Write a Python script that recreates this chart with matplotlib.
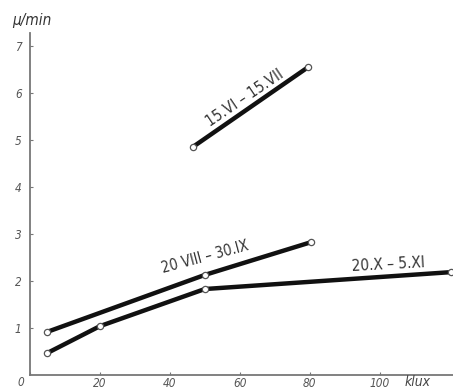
import matplotlib
matplotlib.use("Agg")
import matplotlib.pyplot as plt

# Rate vs. illuminance for three seasonal periods
x_summer = [46.5, 79.5]
y_summer = [4.85, 6.55]

x_autumn1 = [5, 50, 80.5]
y_autumn1 = [0.92, 2.13, 2.83]

x_autumn2 = [5, 20, 50, 120.5]
y_autumn2 = [0.47, 1.04, 1.83, 2.19]

x_ticks = [0, 20, 40, 60, 80, 100]
y_ticks = [1, 2, 3, 4, 5, 6, 7]
x_ticklabels = ["0", "20", "40", "60", "80", "100"]
y_ticklabels = ["1", "2", "3", "4", "5", "6", "7"]

plt.rcParams["font.family"] = ["DejaVu Sans"]
plt.rcParams["font.stretch"] = "condensed"

fig = plt.figure(figsize=(4.53, 3.89), dpi=100)
ax = fig.add_axes([30 / 453, 1 - 375 / 389, 1 - 30 / 453, (375 - 33) / 389])
ax.set_xlim(0, 121)
ax.set_ylim(0, 7.28)

for xs, ys in [(x_summer, y_summer), (x_autumn1, y_autumn1), (x_autumn2, y_autumn2)]:
    ax.plot(xs, ys, color="#111111", lw=3.2, solid_capstyle="round", zorder=2,
            clip_on=False)
    ax.plot(xs, ys, ls="none", marker="o", ms=4.5, mfc="white", mec="#555555",
            mew=0.9, zorder=3, clip_on=False)

for side in ["top", "right"]:
    ax.spines[side].set_visible(False)
for side in ["left", "bottom"]:
    ax.spines[side].set_color("#777777")
    ax.spines[side].set_linewidth(1.3)

ax.set_xticks(x_ticks)
# the origin label sits left of the corner, drawn separately below
ax.set_xticklabels([""] + x_ticklabels[1:])
ax.set_yticks(y_ticks)
ax.set_yticklabels(y_ticklabels)
ax.tick_params(axis="both", direction="in", length=2.5, width=0.8, color="#777777",
               labelcolor="#555555", labelsize=8.5)
ax.tick_params(axis="x", pad=1.5)
ax.tick_params(axis="y", pad=6)
for lbl in ax.get_xticklabels() + ax.get_yticklabels():
    lbl.set_fontstyle("italic")

ax.text(-2.7, -0.03, x_ticklabels[0], fontsize=8.5, style="italic", color="#555555",
        ha="center", va="top", clip_on=False)
ax.text(0.5, 7.55, "μ/min", fontsize=11, style="italic", color="#333333",
        ha="center", va="center", clip_on=False)
ax.text(111, -0.14, "klux", fontsize=10, style="italic", color="#444444",
        ha="center", va="center", clip_on=False)

ax.text(61.5, 5.9, "15.VI – 15.VII", fontsize=11, color="#333333",
        rotation=34, ha="center", va="center")
ax.text(50, 2.5, "20 VIII – 30.IX", fontsize=10.5, color="#333333",
        rotation=15, ha="center", va="center")
ax.text(102.5, 2.35, "20.X – 5.XI", fontsize=11, color="#333333",
        rotation=3, ha="center", va="center")

fig.savefig("out.png", dpi=100)
